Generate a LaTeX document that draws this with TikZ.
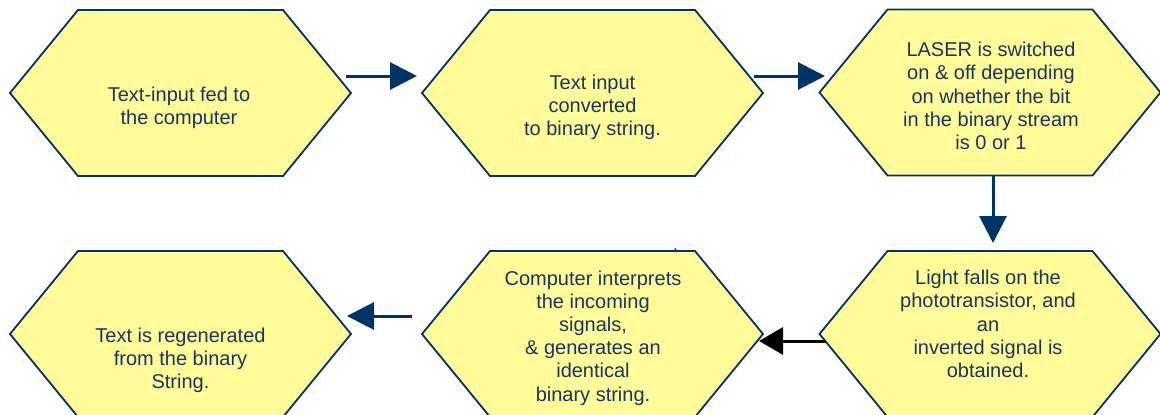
\documentclass[tikz,border=0pt]{standalone}
\usepackage{fontspec}
\setmainfont{Liberation Sans}
\usetikzlibrary{arrows.meta}
\definecolor{hexfill}{RGB}{255,252,153}
\definecolor{navy}{RGB}{0,51,102}
\definecolor{txtcol}{RGB}{23,55,94}
\newcommand\hexshape[3]{%
  \node[hexbox] (#1) at (#2,#3) {};
  \draw[hexline] (#1.west) -- ++(68,-83) -- ++(205,0) -- (#1.east) -- ++(-68,83) -- ++(-205,0) -- cycle;}
\begin{document}
\begin{tikzpicture}[x=1pt,y=-1pt,
  hexbox/.style={rectangle,draw=none,minimum width=341pt,minimum height=166pt,inner sep=0pt,outer sep=0pt},
  hexline/.style={draw=navy,fill=hexfill,line width=1.8pt,line join=miter},
  hextext/.style={align=center,text=txtcol,inner sep=0pt,font=\fontsize{20pt}{23.2pt}\selectfont},
  flow/.style={draw=navy,line width=3pt,-{Triangle[length=27pt,width=27pt]}},
  flowblack/.style={draw=black,line width=3pt,-{Triangle[length=24pt,width=27pt]}},
  tick/.style={draw=navy,line width=1.5pt}]
\useasboundingbox (0,0) rectangle (1160,415);
\clip (0,0) rectangle (1160,415);
\fill[white] (0,0) rectangle (1160,415);

\hexshape{h1}{180.5}{93}
\hexshape{h2}{592.5}{93}
\hexshape{h3}{990}{92.5}
\hexshape{h4}{990}{334}
\hexshape{h5}{592.5}{334}
\hexshape{h6}{180.5}{334}

\node[hextext] (t1) at (179,108) {Text-input fed to\\the computer};
\node[hextext] (t2) at (592.5,107.5) {Text input\\converted\\to binary string.};
\node[hextext] (t3) at (991,96) {LASER is switched\\on \& off depending\\on whether the bit\\in the binary stream\\is 0 or 1};
\node[hextext] (t4) at (988,324) {Light falls on the\\phototransistor, and\\an\\inverted signal is\\obtained.};
\node[hextext] (t5) at (593,338) {Computer interprets\\the incoming\\signals,\\\& generates an\\identical\\binary string.};
\node[hextext] (t6) at (180.5,360.5) {Text is regenerated\\from the binary\\String.};

\coordinate (a1s) at (346,76);
\coordinate (a1e) at (417,76);
\coordinate (a2s) at (754,76);
\coordinate (a2e) at (825,76);
\coordinate (a3s) at (993,176);
\coordinate (a3e) at (993,243);
\coordinate (a4s) at (826,341);
\coordinate (a4e) at (759,341);
\coordinate (a5s) at (412,316);
\coordinate (a5e) at (347,316);
\coordinate (k1) at (675,248.5);
\coordinate (k2) at (676.5,252);

\draw[flow] (a1s) -- (a1e);
\draw[flow] (a2s) -- (a2e);
\draw[flow] (a3s) -- (a3e);
\draw[flowblack] (a4s) -- (a4e);
\draw[flow] (a5s) -- (a5e);
\draw[tick] (k1) -- (k2);
\end{tikzpicture}
\end{document}
